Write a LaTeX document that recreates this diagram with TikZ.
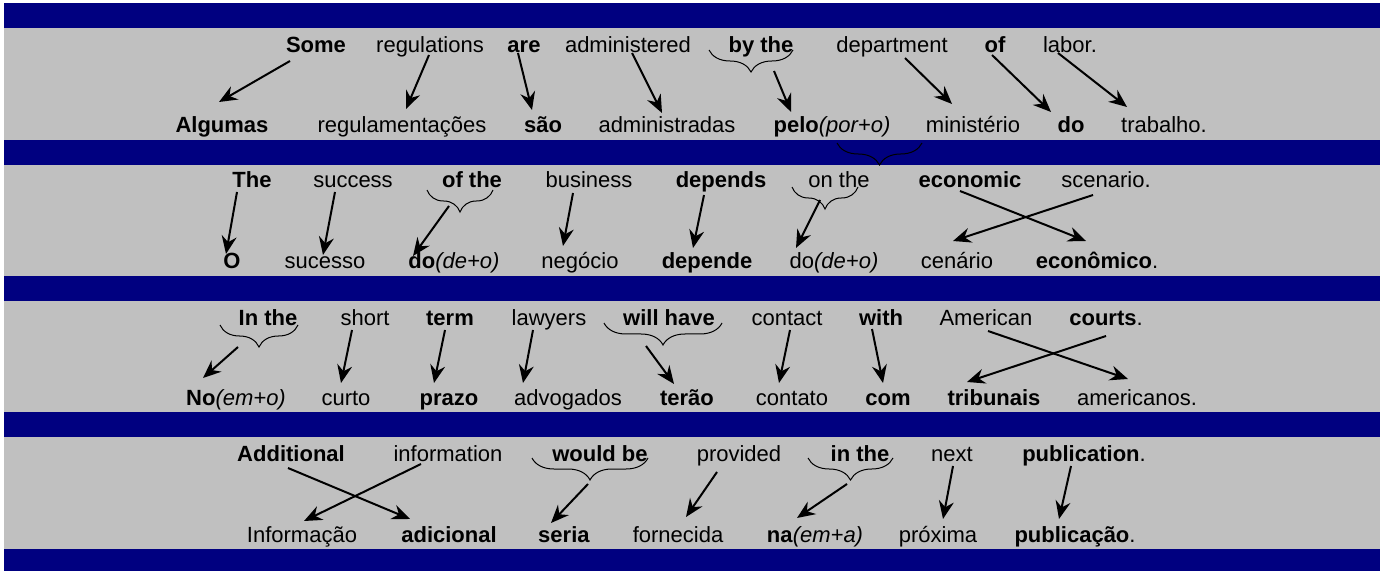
\documentclass[tikz,border=0pt]{standalone}
\usepackage{fontspec}
\setmainfont{Liberation Sans}
\usetikzlibrary{arrows.meta,decorations.pathreplacing}
\definecolor{bandblue}{RGB}{0,0,128}
\definecolor{bggray}{RGB}{192,192,192}
\tikzset{
  word/.style={anchor=base, inner sep=0pt, font=\fontsize{11pt}{13pt}\selectfont},
  trans/.style={-{Stealth[length=9pt,width=7.5pt,inset=3pt]}, line width=1pt},
  grp/.style={decorate, decoration={brace,mirror,amplitude=11pt}, line width=0.5pt},
}

\begin{document}
\begin{tikzpicture}[x=0.5pt,y=-0.5pt]
  \useasboundingbox (0,0) rectangle (1385,571);

  %background and bands
  \fill[bggray] (4,3) rectangle (1380,571);
  \foreach \y in {3,140,276,412} {
    \fill[bandblue] (4,\y) rectangle (1380,\y+25);
  }
  \fill[bandblue] (4,549) rectangle (1380,571);

  %row 1
  \node[word] (Some) at (316,53) {\textbf{Some}};
  \node[word] (regulations) at (430,53) {regulations};
  \node[word] (are) at (524,53) {\textbf{are}};
  \node[word] (administered) at (628,53) {administered};
  \node[word] (bythe) at (761,53) {\textbf{by the}};
  \node[word] (department) at (892,53) {department};
  \node[word] (of) at (995,53) {\textbf{of}};
  \node[word] (labor) at (1070,53) {labor.};

  \node[word] (Algumas) at (222,133) {\textbf{Algumas}};
  \node[word] (regulamentacoes) at (402,133) {regulamentações};
  \node[word] (sao) at (543,133) {\textbf{são}};
  \node[word] (administradas) at (667,133) {administradas};
  \node[word] (pelo) at (832,133) {\textbf{pelo}\textit{(por+o)}};
  \node[word] (ministerio) at (973,133) {ministério};
  \node[word] (do) at (1071,133) {\textbf{do}};
  \node[word] (trabalho) at (1164,133) {trabalho.};

  \draw[grp] ([shift={(-52,-3)}]bythe.base) -- ([shift={(32,-3)}]bythe.base);
  \draw[grp] ([shift={(5,10)}]pelo.base) -- ([shift={(90,10)}]pelo.base);

  \draw[trans] ([shift={(-26,8)}]Some.base) -- ([shift={(-3,-31)}]Algumas.base);
  \draw[trans] ([shift={(-1,2)}]regulations.base) -- ([shift={(4,-24)}]regulamentacoes.base);
  \draw[trans] ([shift={(-6,0)}]are.base) -- ([shift={(-11,-23)}]sao.base);
  \draw[trans] ([shift={(4,0)}]administered.base) -- ([shift={(-5,-20)}]administradas.base);
  \draw[trans] ([shift={(13,18)}]bythe.base) -- ([shift={(-41,-21)}]pelo.base);
  \draw[trans] ([shift={(13,5)}]department.base) -- ([shift={(-21,-29)}]ministerio.base);
  \draw[trans] ([shift={(-3,2)}]of.base) -- ([shift={(-20,-21)}]do.base);
  \draw[trans] ([shift={(-12,0)}]labor.base) -- ([shift={(-37,-26)}]trabalho.base);

  %row 2
  \node[word] (The) at (252,188) {\textbf{The}};
  \node[word] (success) at (353,188) {success};
  \node[word] (ofthe) at (472,188) {\textbf{of the}};
  \node[word] (business) at (589,188) {business};
  \node[word] (depends) at (721,188) {\textbf{depends}};
  \node[word] (onthe) at (839,188) {on the};
  \node[word] (economic) at (970,188) {\textbf{economic}};
  \node[word] (scenario) at (1106,188) {scenario.};

  \node[word] (O) at (232,269) {\textbf{O}};
  \node[word] (sucesso) at (325,269) {sucesso};
  \node[word] (dodeo) at (454,269) {\textbf{do}\textit{(de+o)}};
  \node[word] (negocio) at (580,269) {negócio};
  \node[word] (depende) at (707,269) {\textbf{depende}};
  \node[word] (dodeob) at (834,269) {do\textit{(de+o)}};
  \node[word] (cenario) at (957,269) {cenário};
  \node[word] (economico) at (1097,269) {\textbf{econômico}.};

  \draw[grp] ([shift={(-45,2)}]ofthe.base) -- ([shift={(21,2)}]ofthe.base);
  \draw[grp] ([shift={(-47,-1)}]onthe.base) -- ([shift={(19,-1)}]onthe.base);

  \draw[trans] ([shift={(-15,4)}]The.base) -- ([shift={(-6,-15)}]O.base);
  \draw[trans] ([shift={(-18,4)}]success.base) -- ([shift={(-2,-14)}]sucesso.base);
  \draw[trans] ([shift={(-23,18)}]ofthe.base) -- ([shift={(-41,-13)}]dodeo.base);
  \draw[trans] ([shift={(-16,5)}]business.base) -- ([shift={(-17,-23)}]negocio.base);
  \draw[trans] ([shift={(-17,7)}]depends.base) -- ([shift={(-14,-21)}]depende.base);
  \draw[trans] ([shift={(-19,12)}]onthe.base) -- ([shift={(-38,-21)}]dodeob.base);
  \draw[trans] ([shift={(-10,3)}]economic.base) -- ([shift={(-11,-28)}]economico.base);
  \draw[trans] ([shift={(-13,7)}]scenario.base) -- ([shift={(-4,-28)}]cenario.base);

  %row 3
  \node[word] (Inthe) at (268,326) {\textbf{In the}};
  \node[word] (short) at (365,326) {short};
  \node[word] (term) at (450,326) {\textbf{term}};
  \node[word] (lawyers) at (549,326) {lawyers};
  \node[word] (willhave) at (669,326) {\textbf{will have}};
  \node[word] (contact) at (787,326) {contact};
  \node[word] (with) at (881,326) {\textbf{with}};
  \node[word] (American) at (986,326) {American};
  \node[word] (courts) at (1106,326) {\textbf{courts}.};

  \node[word] (Noemo) at (236,405) {\textbf{No}\textit{(em+o)}};
  \node[word] (curto) at (346,405) {curto};
  \node[word] (prazo) at (449,405) {\textbf{prazo}};
  \node[word] (advogados) at (568,405) {advogados};
  \node[word] (terao) at (687,405) {\textbf{terão}};
  \node[word] (contato) at (792,405) {contato};
  \node[word] (com) at (888,405) {\textbf{com}};
  \node[word] (tribunais) at (994,405) {\textbf{tribunais}};
  \node[word] (americanos) at (1137,405) {americanos.};

  \draw[grp] ([shift={(-48,-1)}]Inthe.base) -- ([shift={(30,-1)}]Inthe.base);
  \draw[grp] ([shift={(-65,-3)}]willhave.base) -- ([shift={(53,-3)}]willhave.base);

  \draw[trans] ([shift={(-30,21)}]Inthe.base) -- ([shift={(-33,-27)}]Noemo.base);
  \draw[trans] ([shift={(-13,4)}]short.base) -- ([shift={(-5,-22)}]curto.base);
  \draw[trans] ([shift={(-5,4)}]term.base) -- ([shift={(-15,-22)}]prazo.base);
  \draw[trans] ([shift={(-16,4)}]lawyers.base) -- ([shift={(-45,-22)}]advogados.base);
  \draw[trans] ([shift={(-23,20)}]willhave.base) -- ([shift={(-13,-21)}]terao.base);
  \draw[trans] ([shift={(3,4)}]contact.base) -- ([shift={(-13,-22)}]contato.base);
  \draw[trans] ([shift={(-9,3)}]with.base) -- ([shift={(-5,-22)}]com.base);
  \draw[trans] ([shift={(2,5)}]American.base) -- ([shift={(-9,-26)}]americanos.base);
  \draw[trans] ([shift={(0,10)}]courts.base) -- ([shift={(-27,-23)}]tribunais.base);

  %row 4
  \node[word] (Additional) at (291,461) {\textbf{Additional}};
  \node[word] (information) at (448,461) {information};
  \node[word] (wouldbe) at (600,461) {\textbf{would be}};
  \node[word] (provided) at (739,461) {provided};
  \node[word] (inthe) at (860,461) {\textbf{in the}};
  \node[word] (next) at (952,461) {next};
  \node[word] (publication) at (1084,461) {\textbf{publication}.};

  \node[word] (Informacao) at (302,542) {Informação};
  \node[word] (adicional) at (449,542) {\textbf{adicional}};
  \node[word] (seria) at (564,542) {\textbf{seria}};
  \node[word] (fornecida) at (678,542) {fornecida};
  \node[word] (naema) at (815,542) {\textbf{na}\textit{(em+a)}};
  \node[word] (proxima) at (938,542) {próxima};
  \node[word] (publicacao) at (1075,542) {\textbf{publicação}.};

  \draw[grp] ([shift={(-68,-3)}]wouldbe.base) -- ([shift={(48,-3)}]wouldbe.base);
  \draw[grp] ([shift={(-52,-3)}]inthe.base) -- ([shift={(33,-3)}]inthe.base);

  \draw[trans] ([shift={(-3,7)}]Additional.base) -- ([shift={(-39,-23)}]adicional.base);
  \draw[trans] ([shift={(-27,3)}]information.base) -- ([shift={(2,-21)}]Informacao.base);
  \draw[trans] ([shift={(-12,23)}]wouldbe.base) -- ([shift={(-13,-19)}]seria.base);
  \draw[trans] ([shift={(-22,11)}]provided.base) -- ([shift={(8,-25)}]fornecida.base);
  \draw[trans] ([shift={(-13,23)}]inthe.base) -- ([shift={(-18,-24)}]naema.base);
  \draw[trans] ([shift={(1,5)}]next.base) -- ([shift={(5,-23)}]proxima.base);
  \draw[trans] ([shift={(-13,5)}]publication.base) -- ([shift={(-16,-23)}]publicacao.base);
\end{tikzpicture}
\end{document}
